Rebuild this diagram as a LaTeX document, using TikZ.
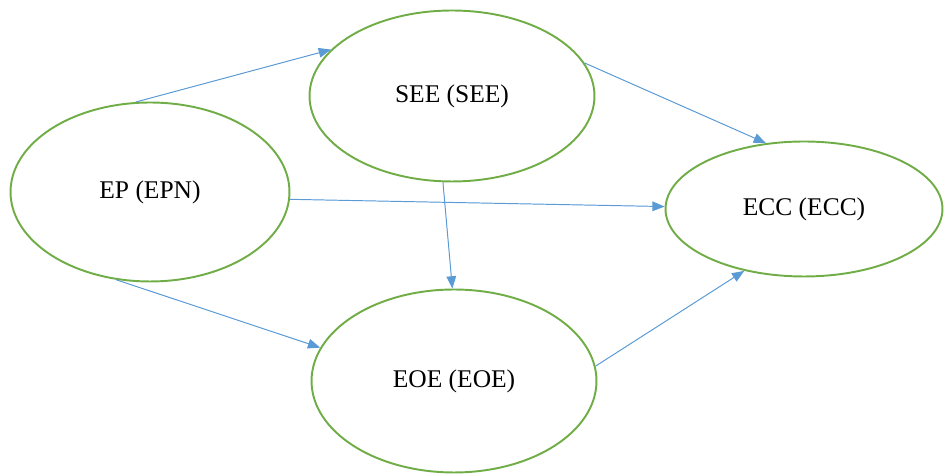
\documentclass[tikz,border=0pt]{standalone}
\usepackage{fontspec}
\setmainfont{Liberation Serif}
\usetikzlibrary{arrows.meta,shapes.geometric}
\definecolor{ovalgreen}{RGB}{112,173,71}
\definecolor{arrowblue}{RGB}{91,155,213}

\begin{document}
\begin{tikzpicture}[x=0.02cm,y=-0.02cm,
            >={Triangle[length=7pt,width=5.5pt]},
            oval/.style={ellipse,draw=ovalgreen,line width=1.1pt,inner sep=0pt,
                font=\fontsize{14.5}{17}\selectfont},
            link/.style={->,draw=arrowblue,fill=arrowblue,line width=0.55pt}]
            \useasboundingbox (0,0) rectangle (944,475);

            \node[oval,minimum width=5.58cm,minimum height=3.58cm] (ep)  at (150,192) {EP (EPN)};
            \node[oval,minimum width=5.7cm,minimum height=3.42cm]  (see) at (452,96)  {SEE (SEE)};
            \node[oval,minimum width=5.54cm,minimum height=2.7cm]  (ecc) at (804,209) {ECC (ECC)};
            \node[oval,minimum width=5.7cm,minimum height=3.66cm]  (eoe) at (454,381) {EOE (EOE)};

            \path
            (ep.99)    edge[link]   (see.159)
            (see.14)   edge[link]   (ecc.120)
            (ep.-3)    edge[link]   (ecc.179)
            (see.264)  edge[link]   (eoe.91)
            (ep.249)   edge[link]   (eoe.166)
            (eoe.6)    edge[link]   (ecc.226);
\end{tikzpicture}
\end{document}
